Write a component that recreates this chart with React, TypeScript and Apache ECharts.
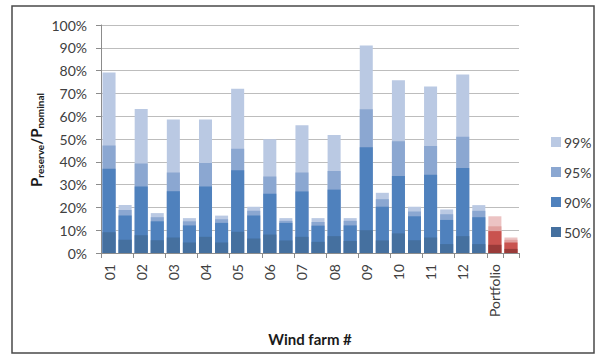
import React, { useEffect, useRef } from "react";
import * as echarts from "echarts";

// Two bars per wind farm, then the portfolio pair; labels only under the first bar of each pair.
const categories = [
  "01", "", "02", "", "03", "", "04", "", "05", "", "06", "",
  "07", "", "08", "", "09", "", "10", "", "11", "", "12", "",
  "Portfolio", "",
];

// Reserve / nominal power (%) at each quantile level.
const p50 = [9.1, 5.8, 7.8, 5.6, 6.8, 4.6, 7.1, 4.6, 9.3, 6.4, 8.1, 5.5, 7.1, 4.9, 7.4, 5.3, 10.0, 5.5, 8.6, 5.6, 6.8, 3.9, 7.4, 3.9, 3.6, 1.8];
const p90 = [37.0, 16.4, 29.2, 13.9, 27.1, 12.1, 29.2, 13.2, 36.3, 16.4, 26.0, 13.2, 27.0, 12.0, 27.8, 12.1, 46.4, 20.3, 33.8, 16.1, 34.3, 14.5, 37.3, 15.7, 9.6, 4.6];
const p95 = [47.2, 18.9, 39.2, 15.7, 35.3, 13.9, 39.5, 14.8, 45.7, 18.5, 33.5, 14.1, 35.3, 13.6, 36.0, 14.1, 63.1, 23.6, 49.0, 18.2, 46.9, 17.0, 51.0, 18.5, 11.7, 5.8];
const p99 = [79.2, 21.0, 63.2, 17.5, 58.5, 15.3, 58.5, 16.4, 72.0, 20.3, 49.9, 15.3, 56.0, 15.3, 51.8, 15.3, 91.0, 26.4, 75.8, 20.3, 73.0, 19.1, 78.3, 21.0, 16.1, 6.8];

const levels = [
  { name: "99%", values: p99, color: "#bac9e3", portfolio: "#ecc3c3" },
  { name: "95%", values: p95, color: "#8ba7d1", portfolio: "#e0a09e" },
  { name: "90%", values: p90, color: "#4f81bd", portfolio: "#c9534f" },
  { name: "50%", values: p50, color: "#45709f", portfolio: "#9a3b39" },
];

const FONT = "Lato, 'DejaVu Sans', sans-serif";
const TEXT = "#404040";

function isPortfolio(index: number): boolean {
  return categories[index - (index % 2)] === "Portfolio";
}

export default function App() {
  const ref = useRef<HTMLDivElement>(null);

  useEffect(() => {
    if (!ref.current) return;
    const chart = echarts.init(ref.current, null, { renderer: "svg" });

    const series = levels.map((lv) => ({
      name: lv.name,
      type: "bar" as const,
      barGap: "-100%",
      barWidth: "81%",
      itemStyle: { color: lv.color },
      data: lv.values.map((v, i) =>
        isPortfolio(i) ? { value: v, itemStyle: { color: lv.portfolio } } : v
      ),
    }));

    chart.setOption({
      animation: false,
      textStyle: { fontFamily: FONT },
      grid: { left: 101, right: 78, top: 25, bottom: 103, containLabel: false },
      legend: {
        data: levels.map((l) => l.name),
        orient: "vertical",
        left: 546,
        top: 130,
        icon: "rect",
        itemWidth: 10,
        itemHeight: 10,
        itemGap: 16,
        textStyle: { fontFamily: FONT, fontSize: 14, color: TEXT, padding: [0, 0, 0, -2] },
      },
      xAxis: {
        type: "category",
        data: categories,
        boundaryGap: true,
        axisLine: { lineStyle: { color: "#8c8c8c", width: 1 } },
        axisTick: { show: true, interval: 1, length: 5, lineStyle: { color: "#8c8c8c" } },
        axisLabel: {
          interval: 0,
          rotate: 90,
          margin: 11,
          fontFamily: FONT,
          fontSize: 14,
          color: TEXT,
        },
      },
      yAxis: {
        type: "value",
        min: 0,
        max: 100,
        interval: 10,
        axisLine: { show: true, lineStyle: { color: "#8c8c8c", width: 1 } },
        axisTick: { show: true, length: 5, lineStyle: { color: "#8c8c8c" } },
        axisLabel: {
          formatter: "{value}%",
          margin: 14,
          fontFamily: FONT,
          fontSize: 14,
          color: TEXT,
        },
        splitLine: { lineStyle: { color: "#bdbdbd", width: 1 } },
      },
      graphic: [
        {
          type: "rect",
          shape: { x: 12, y: 6, width: 582, height: 347 },
          style: { fill: "none", stroke: "#4a4a4a", lineWidth: 1.5 },
          silent: true,
          z: -1,
        },
        {
          type: "text",
          x: 310,
          y: 339,
          style: {
            text: "Wind farm #",
            fontFamily: FONT,
            fontSize: 15,
            fontWeight: "bold",
            fill: "#1a1a1a",
            align: "center",
            verticalAlign: "middle",
          },
        },
        {
          type: "text",
          x: 36,
          y: 140,
          rotation: Math.PI / 2,
          style: {
            text: "{b|P}{s|reserve}{b|/P}{s|nominal}",
            fontFamily: FONT,
            align: "center",
            verticalAlign: "middle",
            rich: {
              b: { fontFamily: FONT, fontSize: 15, fontWeight: "bold", fill: "#1a1a1a", lineHeight: 20, verticalAlign: "middle" },
              s: { fontFamily: FONT, fontSize: 10, fontWeight: "bold", fill: "#1a1a1a", lineHeight: 20, padding: [8, 0, 0, 0], verticalAlign: "middle" },
            },
          },
        },
      ],
      series,
    });

    return () => chart.dispose();
  }, []);

  return (
    <div
      ref={ref}
      style={{ position: "absolute", left: 0, top: 0, width: 597, height: 356, background: "#fff" }}
    />
  );
}
